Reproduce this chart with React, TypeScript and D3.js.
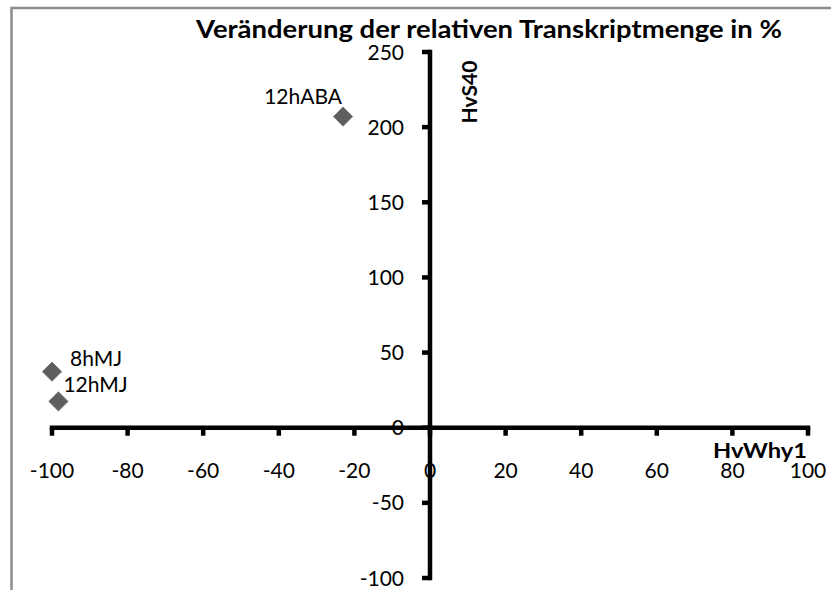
import React from "react";
import * as d3 from "d3";

const labels = ["12hABA", "8hMJ", "12hMJ"];
const xValues = [-23, -100, -98.3];
const yValues = [207, 37.3, 17.5];
const xTicks = [-100, -80, -60, -40, -20, 0, 20, 40, 60, 80, 100];
const yTicks = [-100, -50, 0, 50, 100, 150, 200, 250];
const title = "Veränderung der relativen Transkriptmenge in %";
const xTitle = "HvWhy1";
const yTitle = "HvS40";

const W = 831;
const H = 590;
const FONT = "Lato, 'Open Sans', sans-serif";

export default function App() {
  const x = d3.scaleLinear().domain([-100, 100]).range([52, 808]);
  const y = d3.scaleLinear().domain([-100, 250]).range([578, 52]);
  const x0 = x(0);
  const y0 = y(0);
  const diamond = d3.symbol().type(d3.symbolDiamond2).size(235)();
  const labelOffsets = [
    { dx: -1, dy: -13, anchor: "end" },
    { dx: 18, dy: -6, anchor: "start" },
    { dx: 5, dy: -9, anchor: "start" },
  ];
  const AX = 4.5;
  return (
    <svg width={W} height={H} style={{ position: "absolute", left: 0, top: 0, background: "#fff" }}>
      <rect x={0} y={0} width={W} height={H} fill="#fff" />
      <path d={`M11.5,${H} L11.5,8 L${W},8`} fill="none" stroke="#8c8c8c" strokeWidth={2.5} />
      <text
        x={196}
        y={38}
        textLength={586}
        lengthAdjust="spacingAndGlyphs"
        fontFamily={FONT}
        fontWeight="bold"
        fontSize={25}
        fill="#000"
      >
        {title}
      </text>
      {/* axes */}
      <line x1={x(-100) - AX / 2} x2={x(100) + AX / 2} y1={y0} y2={y0} stroke="#000" strokeWidth={AX} />
      <line x1={x0} x2={x0} y1={y(250) - AX / 2} y2={y(-100) + AX / 2} stroke="#000" strokeWidth={AX} />
      {xTicks.map((t) => (
        <g key={"xt" + t}>
          <line x1={x(t)} x2={x(t)} y1={y0} y2={y0 + 8} stroke="#000" strokeWidth={AX} />
          <text x={x(t)} y={478} textAnchor="middle" fontFamily={FONT} fontSize={21} fill="#000">
            {t}
          </text>
        </g>
      ))}
      {yTicks.map((t) => (
        <g key={"yt" + t}>
          <line x1={x0 - 8} x2={x0} y1={y(t)} y2={y(t)} stroke="#000" strokeWidth={AX} />
          <text x={404} y={y(t) + 7.5} textAnchor="end" fontFamily={FONT} fontSize={21} fill="#000">
            {t}
          </text>
        </g>
      ))}
      <text
        x={713}
        y={458}
        textLength={94}
        lengthAdjust="spacingAndGlyphs"
        fontFamily={FONT}
        fontWeight="bold"
        fontSize={21}
        fill="#000"
      >
        {xTitle}
      </text>
      <text
        transform={`translate(${x0 + 47},${92}) rotate(-90)`}
        textAnchor="middle"
        fontFamily={FONT}
        fontWeight="bold"
        fontSize={21}
        fill="#000"
      >
        {yTitle}
      </text>
      {labels.map((l, i) => (
        <g key={l}>
          <path
            d={diamond}
            transform={`translate(${x(xValues[i])},${y(yValues[i])})`}
            fill="#5e5e5e"
            stroke="#7a7a7a"
            strokeWidth={1}
          />
          <text
            x={x(xValues[i]) + labelOffsets[i].dx}
            y={y(yValues[i]) + labelOffsets[i].dy}
            textAnchor={labelOffsets[i].anchor}
            fontFamily={FONT}
            fontSize={21}
            fill="#000"
          >
            {l}
          </text>
        </g>
      ))}
    </svg>
  );
}
